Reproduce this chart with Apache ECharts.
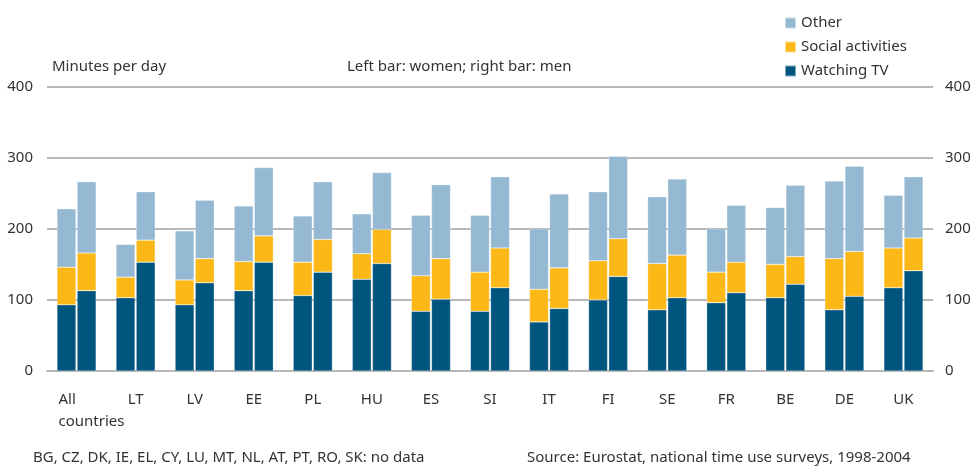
<!DOCTYPE html>
<html>
<head>
<meta charset="utf-8">
<script src="https://cdn.jsdelivr.net/npm/echarts@6/dist/echarts.min.js"></script>
<style>
  html, body { margin: 0; padding: 0; background: #fff; }
  #chart { width: 974px; height: 468px; }
</style>
</head>
<body>
<div id="chart"></div>
<script>
// minutes per day, Eurostat time use surveys
const countries = ['All\ncountries', 'LT', 'LV', 'EE', 'PL', 'HU', 'ES', 'SI', 'IT', 'FI', 'SE', 'FR', 'BE', 'DE', 'UK']

// women (left bar)
const tvWomen = [93, 103, 93, 113, 106, 129, 84, 84, 69, 100, 86, 96, 103, 86, 117]
const socialWomen = [53, 29, 35, 41, 47, 36, 50, 55, 46, 55, 65, 43, 47, 72, 56]
const otherWomen = [82, 46, 69, 78, 65, 56, 85, 80, 85, 97, 94, 61, 80, 109, 74]

// men (right bar)
const tvMen = [113, 153, 124, 153, 139, 151, 101, 117, 88, 133, 103, 110, 122, 105, 141]
const socialMen = [53, 31, 34, 37, 46, 48, 57, 56, 57, 53, 60, 43, 39, 63, 46]
const otherMen = [100, 68, 82, 96, 81, 80, 104, 100, 104, 116, 107, 80, 100, 120, 86]

const yTicks = [0, 100, 200, 300, 400]

const colors = {
  tv: '#00557f',
  social: '#fbb817',
  other: '#95b9d3'
}
const textColor = '#333'
const font = '"Noto Sans", sans-serif'

function barSeries (name, stack, data, color) {
  return {
    name: name,
    type: 'bar',
    stack: stack,
    data: data,
    barWidth: 19,
    barGap: '6%',
    itemStyle: {
      color: color,
      borderColor: 'rgba(255,255,255,0.5)',
      borderWidth: 0.5
    }
  }
}

const option = {
  animation: false,
  textStyle: { fontFamily: font, color: textColor },
  grid: {
    left: 47,
    right: 41,
    top: 86.5,
    bottom: 97
  },
  legend: {
    orient: 'vertical',
    left: 779,
    top: 8,
    itemWidth: 11,
    itemHeight: 11,
    itemGap: 4,
    icon: 'rect',
    textStyle: { fontSize: 15, color: textColor, fontFamily: font, lineHeight: 20 },
    data: ['Other', 'Social activities', 'Watching TV']
  },
  graphic: [
    { type: 'text', left: 52, top: 59, style: { text: 'Minutes per day', fontSize: 15, fill: textColor, fontFamily: font } },
    { type: 'text', left: 347, top: 59, style: { text: 'Left bar: women; right bar: men', fontSize: 15, fill: textColor, fontFamily: font } },
    { type: 'text', left: 33, top: 450, style: { text: 'BG, CZ, DK, IE, EL, CY, LU, MT, NL, AT, PT, RO, SK: no data', fontSize: 15, fill: textColor, fontFamily: font } },
    { type: 'text', left: 527, top: 450, style: { text: 'Source: Eurostat, national time use surveys, 1998-2004', fontSize: 15, fill: textColor, fontFamily: font } }
  ],
  xAxis: {
    type: 'category',
    data: countries,
    axisTick: { show: false },
    axisLine: { show: true, lineStyle: { color: '#b8b8b8', width: 2 } },
    axisLabel: {
      color: textColor,
      fontSize: 15,
      fontFamily: font,
      margin: 18,
      lineHeight: 22,
      interval: 0,
      formatter: function (value) {
        if (value.indexOf('\n') < 0) return value
        // multi-line label is set flush left under the group
        return value.split('\n').map(function (s) { return '{l|' + s + '}' }).join('\n')
      },
      rich: {
        l: { width: 36, align: 'left', fontSize: 15, lineHeight: 22, fontFamily: font, color: textColor }
      }
    }
  },
  yAxis: [
    {
      type: 'value',
      min: yTicks[0],
      max: yTicks[yTicks.length - 1],
      interval: 100,
      axisLine: { show: false },
      axisTick: { show: false },
      splitLine: { lineStyle: { color: '#b8b8b8', width: 2 } },
      axisLabel: { color: textColor, fontSize: 15, fontFamily: font, margin: 14 }
    },
    {
      type: 'value',
      position: 'right',
      min: yTicks[0],
      max: yTicks[yTicks.length - 1],
      interval: 100,
      axisLine: { show: false },
      axisTick: { show: false },
      splitLine: { show: false },
      axisLabel: { color: textColor, fontSize: 15, fontFamily: font, margin: 12 }
    }
  ],
  series: [
    barSeries('Watching TV', 'women', tvWomen, colors.tv),
    barSeries('Social activities', 'women', socialWomen, colors.social),
    barSeries('Other', 'women', otherWomen, colors.other),
    barSeries('Watching TV', 'men', tvMen, colors.tv),
    barSeries('Social activities', 'men', socialMen, colors.social),
    barSeries('Other', 'men', otherMen, colors.other)
  ]
}

const myChart = echarts.init(document.getElementById('chart'))
myChart.setOption(option)
</script>
</body>
</html>
